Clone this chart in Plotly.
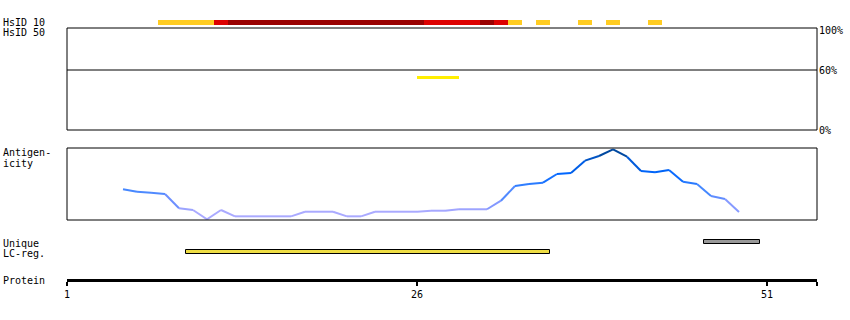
import plotly.graph_objects as go
from plotly.colors import sample_colorscale

W, H = 850, 320
ML, MR = 67, 33

# ---------------- data ----------------
X_MIN, X_MAX = 1, 54.5714
tick_vals = [1, 26, 51]
tick_text = ["1", "26", "51"]

# HsID 10 identity strip (residue ranges, inclusive) and identity class
hsid10_start = [8, 12, 13, 27, 31, 32, 33, 35, 38, 40, 43]
hsid10_end = [11, 12, 26, 30, 31, 32, 33, 35, 38, 40, 43]
hsid10_level = ["low", "mid", "high", "mid", "high", "mid", "low", "low", "low", "low", "low"]

# HsID 50 panel (percent identity)
hsid50_start = [26]
hsid50_end = [29]
hsid50_value = [52.5]
pct_ticks = [100, 60, 0]
pct_text = ["100%", "60%", "0%"]

# Antigenicity profile
ant_pos = list(range(5, 50))
ant_val = [0.426, 0.393, 0.379, 0.361, 0.163, 0.139, 0.010, 0.139, 0.051, 0.051,
           0.051, 0.051, 0.051, 0.115, 0.115, 0.115, 0.051, 0.051, 0.115, 0.115,
           0.115, 0.115, 0.129, 0.129, 0.149, 0.149, 0.149, 0.268, 0.472, 0.500,
           0.518, 0.639, 0.653, 0.824, 0.889, 0.982, 0.879, 0.681, 0.663, 0.694,
           0.532, 0.500, 0.333, 0.292, 0.111]

# Unique / low-complexity regions (residue ranges, inclusive)
unique_start, unique_end = [47], [50]
lcreg_start, lcreg_end = [10], [35]

# ---------------- styling ----------------
FONT = "DejaVu Sans Mono"
level_color = {"low": "#ffcc22", "mid": "#dd0000", "high": "#990000"}
ant_scale = [[0.0, "#aaaaff"], [0.12, "#aaaaff"], [0.25, "#7090ff"], [0.42, "#4488ff"],
             [0.65, "#0066ff"], [0.85, "#0055c8"], [1.0, "#003f80"]]


def pyp(p):
    return 1 - p / H


def pxp(p):
    return (p - ML) / (W - ML - MR)


fig = go.Figure()

# HsID 10 strip
for s, e, lv in zip(hsid10_start, hsid10_end, hsid10_level):
    fig.add_trace(go.Bar(orientation="h", base=[s - 0.5], x=[e - s + 1], y=[0.5],
                         width=0.4545, marker=dict(color=level_color[lv], line=dict(width=0)),
                         xaxis="x", yaxis="y5", showlegend=False, hoverinfo="skip"))

# HsID 50 panel segment
for s, e, v in zip(hsid50_start, hsid50_end, hsid50_value):
    fig.add_trace(go.Scatter(x=[s, e], y=[v, v], mode="lines",
                             line=dict(color="#ffee00", width=3),
                             xaxis="x", yaxis="y3", showlegend=False, hoverinfo="skip"))
# 60% reference line
fig.add_trace(go.Scatter(x=[X_MIN, X_MAX], y=[pct_ticks[1], pct_ticks[1]], mode="lines",
                         line=dict(color="black", width=1),
                         xaxis="x", yaxis="y3", showlegend=False, hoverinfo="skip"))

# Antigenicity, segment-coloured
for i in range(len(ant_pos) - 1):
    m = (ant_val[i] + ant_val[i + 1]) / 2
    c = sample_colorscale(ant_scale, [min(max(m, 0), 1)])[0]
    fig.add_trace(go.Scatter(x=ant_pos[i:i + 2], y=ant_val[i:i + 2], mode="lines",
                             line=dict(color=c, width=2),
                             xaxis="x", yaxis="y2", showlegend=False, hoverinfo="skip"))

# Unique / LC regions
for s, e in zip(unique_start, unique_end):
    fig.add_trace(go.Bar(orientation="h", base=[s - 0.5], x=[e - s + 1], y=[0.5], width=0.4,
                         marker=dict(color="#999999", line=dict(color="black", width=1)),
                         xaxis="x", yaxis="y4", showlegend=False, hoverinfo="skip"))
for s, e in zip(lcreg_start, lcreg_end):
    fig.add_trace(go.Bar(orientation="h", base=[s - 0.5], x=[e - s + 1], y=[-0.5], width=0.4,
                         marker=dict(color="#eedd44", line=dict(color="black", width=1)),
                         xaxis="x", yaxis="y4", showlegend=False, hoverinfo="skip"))

hidden = dict(visible=False, fixedrange=True)
fig.update_layout(
    width=W, height=H,
    margin=dict(l=ML, r=MR, t=0, b=0),
    paper_bgcolor="white", plot_bgcolor="white",
    barmode="overlay", bargap=0,
    font=dict(family=FONT, size=10, color="black"),
    xaxis=dict(range=[X_MIN, X_MAX], anchor="free", position=pyp(279.5),
               showline=True, linewidth=3, linecolor="black",
               showgrid=False, zeroline=False,
               tickmode="array", tickvals=tick_vals + [X_MAX], ticktext=tick_text + [""],
               ticks="outside", ticklen=4, tickwidth=1.5, tickcolor="black",
               tickfont=dict(family=FONT, size=10, color="black"), fixedrange=True),
    yaxis=dict(domain=[0, 0.01], **hidden),
    yaxis2=dict(domain=[pyp(220), pyp(148)], range=[0, 1], **hidden),
    yaxis3=dict(domain=[pyp(130), pyp(28)], range=[0, 102], **hidden),
    yaxis4=dict(domain=[pyp(258), pyp(236)], range=[-1.1, 1.1], **hidden),
    yaxis5=dict(domain=[pyp(28), pyp(17)], range=[0, 1], **hidden),
)

# panel boxes
for ya in ["y3", "y2"]:
    fig.add_shape(type="rect", xref="x domain", yref=f"{ya} domain", x0=0, x1=1, y0=0, y1=1,
                  line=dict(color="black", width=1), fillcolor="rgba(0,0,0,0)", layer="above")

# left labels
left_labels = [("HsID 10", 22.7), ("HsID 50", 32.5), ("Antigen-", 152.7), ("icity", 163),
               ("Unique", 243), ("LC-reg.", 253), ("Protein", 280)]
for txt, yc in left_labels:
    fig.add_annotation(text=txt, xref="paper", x=pxp(1), xanchor="left",
                       yref="paper", y=pyp(yc), yanchor="middle", showarrow=False,
                       font=dict(family=FONT, size=10, color="black"))

# right percentage labels
for v, t in zip(pct_ticks, pct_text):
    fig.add_annotation(text=t, xref="paper", x=1, xanchor="left", xshift=0,
                       yref="y3", y=v, yanchor="middle", showarrow=False,
                       font=dict(family=FONT, size=10, color="black"))

fig.write_html("out.html")
